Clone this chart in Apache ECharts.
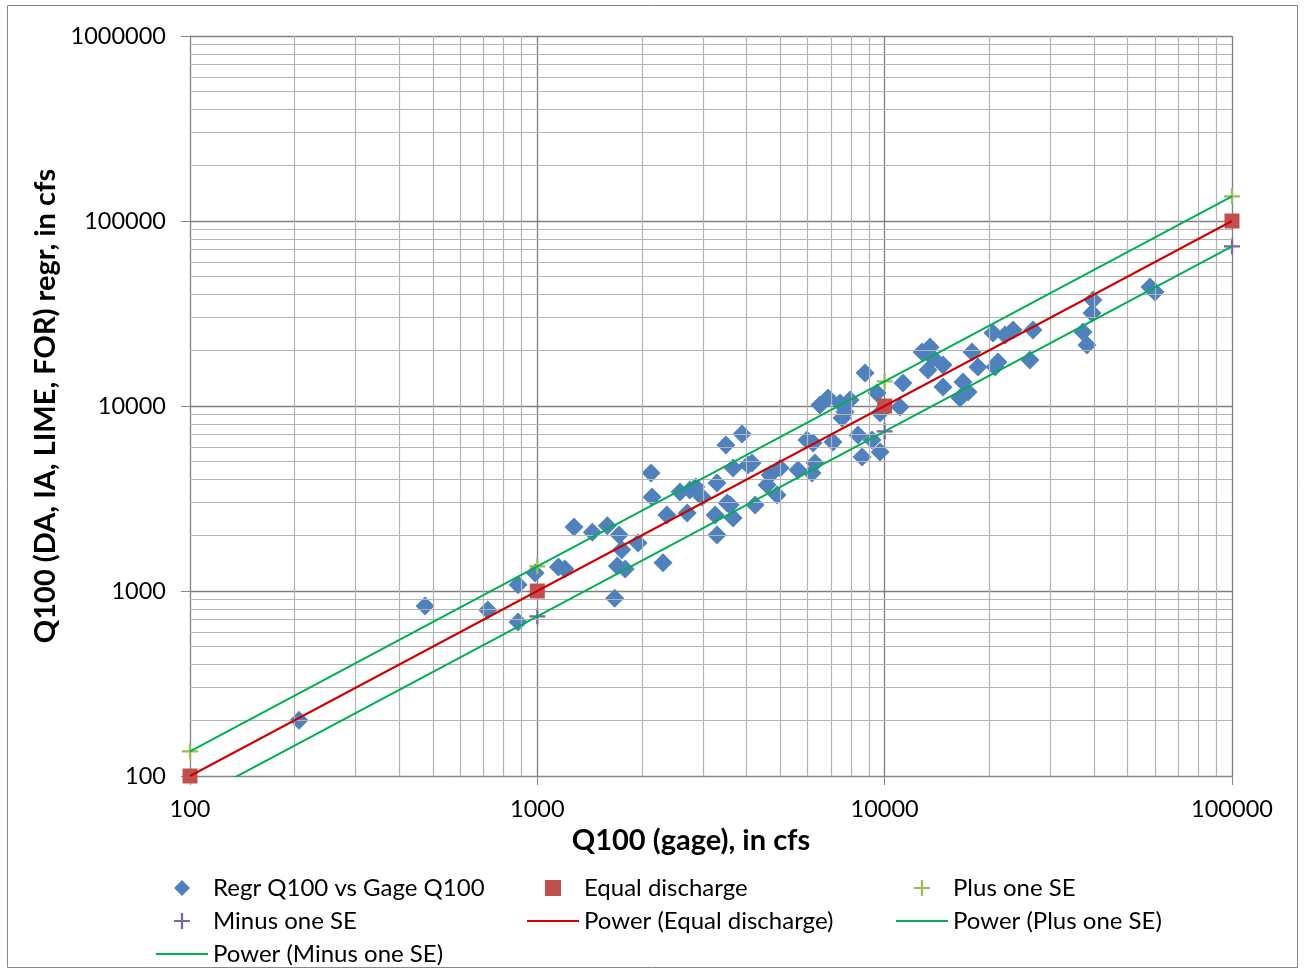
<!DOCTYPE html>
<html>
<head>
<meta charset="utf-8">
<script src="https://cdn.jsdelivr.net/npm/echarts@6/dist/echarts.min.js"></script>
<style>
html,body{margin:0;padding:0;background:#fff;}
#chart{width:1305px;height:970px;}
</style>
</head>
<body>
<div id="chart"></div>
<script>
// ---- data ----
const regrX = [206,475,720,880,880,985,1150,1200,1275,1440,1590,1720,1950,1750,1700,1790,1670,2125,2140,2300,2360,2575,2750,2860,2980,2700,3290,3250,3290,3520,3490,3885,3660,4040,4150,3590,3660,4235,4680,5000,4585,4900,5630,6180,5975,6220,6300,6510,6870,7440,7950,7690,7540,8780,9500,9700,11070,7100,8380,9200,9700,8610,11290,12810,13510,13780,13330,14720,14720,16810,17380,16480,17840,18560,20510,21200,20780,22210,23420,26730,26200,39800,39530,37240,38240,58050,60020];
const regrY = [200,830,790,1080,680,1250,1350,1315,2220,2080,2250,2010,1820,1670,1365,1315,915,4340,3220,1420,2575,3430,3515,3650,3220,2640,3835,2575,2010,2990,6150,7060,4620,4800,4920,2915,2480,2915,4240,4620,3740,3300,4510,4340,6550,6310,4920,10120,11050,10380,10780,9280,8610,15080,11760,9170,9880,6390,6970,6550,5640,5300,13310,19590,20840,18170,15650,16660,12670,13480,11900,11050,19590,16250,24810,17290,16250,24200,25750,25750,17730,37410,31820,25120,21360,43990,41320];
const refX = [100, 1000, 10000, 100000];
const equalY = [100, 1000, 10000, 100000];
const plusY = [136, 1360, 13600, 136000];
const minusY = [73, 730, 7300, 73000];
const xMinor = [200,300,400,500,600,700,800,900,2000,3000,4000,5000,6000,7000,8000,9000,20000,30000,40000,50000,60000,70000,80000,90000];
const yMinor = [200,300,400,500,600,700,800,900,2000,3000,4000,5000,6000,7000,8000,9000,20000,30000,40000,50000,60000,70000,80000,90000,200000,300000,400000,500000,600000,700000,800000,900000];

const FONT = 'Lato';
const zip = (a, b) => a.map((v, i) => [v, b[i]]);
const plusPath = 'path://M0,4.3 H10 V5.7 H0 Z M4.3,0 H5.7 V10 H4.3 Z';
const diamondPath = 'path://M5,0 L10,5 L5,10 L0,5 Z';
const squarePath = 'path://M0,0 H10 V10 H0 Z';
const lineIcon = 'path://M0,0 H52 V2 H0 Z';

const chart = echarts.init(document.getElementById('chart'), null, {renderer: 'canvas'});
const legendBase = {
  orient: 'vertical', itemWidth: 52, itemHeight: 16, itemGap: 9, padding: 0, height: 100,
  symbolKeepAspect: true,
  textStyle: {fontFamily: FONT, fontSize: 24, color: '#000', lineHeight: 24},
  selectedMode: false
};
chart.setOption({
  animation: false,
  backgroundColor: '#fff',
  graphic: [{type: 'rect', shape: {x: 7.5, y: 5.5, width: 1290, height: 962}, style: {fill: 'none', stroke: '#868686', lineWidth: 1}, silent: true}],
  grid: {left: 190, top: 36, right: 73, bottom: 194, containLabel: false},
  legend: [
    Object.assign({}, legendBase, {left: 156, top: 876, data: [
      {name: 'Regr Q100 vs Gage Q100', icon: diamondPath},
      {name: 'Minus one SE', icon: plusPath},
      {name: 'Power (Minus one SE)', icon: lineIcon}
    ]}),
    Object.assign({}, legendBase, {left: 527, top: 876, data: [
      {name: 'Equal discharge', icon: squarePath},
      {name: 'Power (Equal discharge)', icon: lineIcon}
    ]}),
    Object.assign({}, legendBase, {left: 896, top: 876, data: [
      {name: 'Plus one SE', icon: plusPath},
      {name: 'Power (Plus one SE)', icon: lineIcon}
    ]})
  ],
  xAxis: {
    type: 'log', logBase: 10, min: 100, max: 100000,
    name: 'Q100 (gage), in cfs', nameLocation: 'middle', nameGap: 50,
    nameTextStyle: {fontFamily: FONT, fontSize: 29, fontWeight: 'bold', color: '#000', padding: [0, 40, 0, 0]},
    axisLine: {show: true, lineStyle: {color: '#868686', width: 1}},
    axisTick: {show: true, length: 9, lineStyle: {color: '#868686'}},
    axisLabel: {fontFamily: FONT, fontSize: 23.5, color: '#000', margin: 21, formatter: v => String(Math.round(v))},
    splitLine: {show: true, lineStyle: {color: '#7f7f7f', width: 1.3}}
  },
  yAxis: {
    type: 'log', logBase: 10, min: 100, max: 1000000,
    name: 'Q100 (DA, IA, LIME, FOR) regr, in cfs', nameLocation: 'middle', nameGap: 128,
    nameTextStyle: {fontFamily: FONT, fontSize: 29, fontWeight: 'bold', color: '#000'},
    axisLine: {show: true, lineStyle: {color: '#868686', width: 1}},
    axisTick: {show: true, length: 9, lineStyle: {color: '#868686'}},
    axisLabel: {fontFamily: FONT, fontSize: 23.5, color: '#000', margin: 24, formatter: v => String(Math.round(v))},
    splitLine: {show: true, lineStyle: {color: '#7f7f7f', width: 1.3}}
  },
  series: [
    {
      name: 'minorGrid', type: 'line', data: [], z: 1, silent: true,
      markLine: {
        silent: true, symbol: ['none', 'none'], animation: false,
        label: {show: false},
        lineStyle: {color: '#b4b4b4', width: 1.2, type: 'solid'},
        emphasis: {disabled: true},
        data: xMinor.map(v => ({xAxis: v})).concat(yMinor.map(v => ({yAxis: v})))
      }
    },
    {
      name: 'Regr Q100 vs Gage Q100', type: 'scatter', z: 3,
      symbol: diamondPath, symbolSize: 19, symbolKeepAspect: true,
      itemStyle: {color: '#4F81BD', opacity: 1},
      data: zip(regrX, regrY)
    },
    {
      name: 'Equal discharge', type: 'scatter', z: 4,
      symbol: squarePath, symbolSize: 15, symbolKeepAspect: true,
      itemStyle: {color: '#C0504D', opacity: 1},
      data: zip(refX, equalY)
    },
    {
      name: 'Plus one SE', type: 'scatter', z: 4,
      symbol: plusPath, symbolSize: 16, symbolKeepAspect: true,
      itemStyle: {color: '#9BBB59', opacity: 1},
      data: zip(refX, plusY)
    },
    {
      name: 'Minus one SE', type: 'scatter', z: 4,
      symbol: plusPath, symbolSize: 16, symbolKeepAspect: true,
      itemStyle: {color: '#8064A2', opacity: 1},
      data: zip(refX, minusY)
    },
    {
      name: 'Power (Equal discharge)', type: 'line', z: 5, symbol: 'none',
      lineStyle: {color: '#D00000', width: 2}, itemStyle: {color: '#D00000'},
      data: zip(refX, equalY)
    },
    {
      name: 'Power (Plus one SE)', type: 'line', z: 5, symbol: 'none',
      lineStyle: {color: '#00B050', width: 2}, itemStyle: {color: '#00B050'},
      data: zip(refX, plusY)
    },
    {
      name: 'Power (Minus one SE)', type: 'line', z: 5, symbol: 'none',
      lineStyle: {color: '#00B050', width: 2}, itemStyle: {color: '#00B050'},
      data: zip(refX, minusY)
    }
  ]
});
</script>
</body>
</html>
